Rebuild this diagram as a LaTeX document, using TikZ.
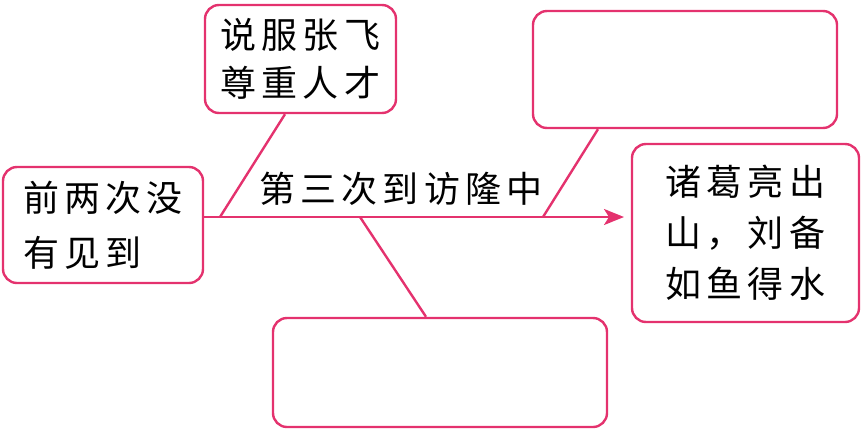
\documentclass[tikz,border=0pt]{standalone}
\usepackage{fontspec}
\newfontfamily\cjk[LetterSpace=14]{Noto Sans CJK SC}
\usetikzlibrary{arrows.meta}
\definecolor{pk}{RGB}{228,50,110}
\begin{document}
\begin{tikzpicture}[x=1pt,y=-1pt,
  box/.style={draw=pk,line width=2.4pt,rounded corners=14pt,inner sep=0pt,align=left},
  txt/.style={font=\cjk\fontsize{36}{52}\selectfont},
  conn/.style={draw=pk,line width=2.4pt}]
\useasboundingbox (0,0) rectangle (868,432);
\node[box,minimum width=200pt,minimum height=116pt,font=\cjk\fontsize{36}{55}\selectfont] (L) at (103,225) {前两次没\\有见到};
\node[box,minimum width=191pt,minimum height=108pt,font=\cjk\fontsize{36}{48}\selectfont] (T) at (300.5,59) {说服张飞\\尊重人才};
\node[box,minimum width=304pt,minimum height=117pt] (TR) at (685,69.5) {};
\node[box,minimum width=227pt,minimum height=178pt,font=\cjk\fontsize{36}{51}\selectfont] (R) at (745.5,233) {诸葛亮出\\山，刘备\\如鱼得水};
\node[box,minimum width=334pt,minimum height=109pt] (B) at (440,372.5) {};
\node[txt,inner sep=0pt] (lab) at (401,189) {第三次到访隆中};
\coordinate (tip) at (624,217);
\coordinate (j1) at (220,217);
\coordinate (j2) at (360,217);
\coordinate (j3) at (543,217);
\draw[conn,-{Stealth[length=20pt,width=16pt,inset=5pt]}] (L.east |- tip) -- (tip);
\draw[conn] (j1) -- (285,0 |- T.south);
\draw[conn] (j3) -- (598,0 |- TR.south);
\draw[conn] (j2) -- (426,0 |- B.north);
\end{tikzpicture}
\end{document}
